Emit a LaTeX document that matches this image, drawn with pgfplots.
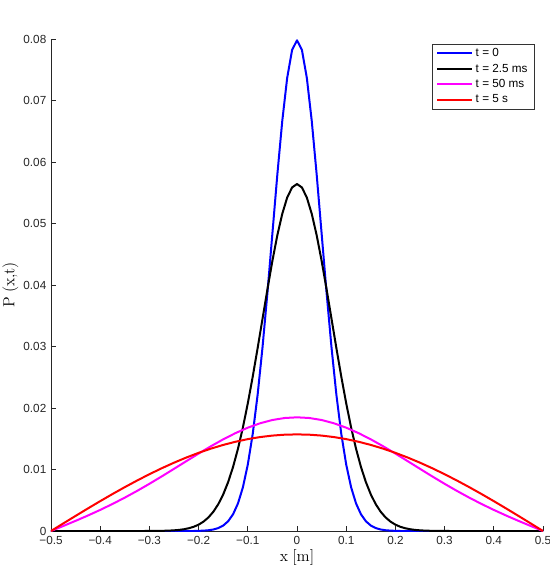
\documentclass[border=0pt]{standalone}
\usepackage{pgfplots}
\pgfplotsset{compat=1.18}
\usepackage[no-math]{fontspec}
\setmainfont{Liberation Sans}
\begin{document}
\begin{tikzpicture}
\begin{axis}[
  name=ax,
  scale only axis,
  width=369pt, height=369pt,
  xmin=-0.5, xmax=0.5, ymin=0, ymax=0.08,
  axis lines*=left,
  tick align=inside,
  major tick length=3.5pt,
  axis line style={line width=0.6pt, black!85},
  every tick/.style={black!85, line width=0.6pt},
  xtick={-0.5,-0.4,-0.3,-0.2,-0.1,0,0.1,0.2,0.3,0.4,0.5},
  xticklabels={−0.5,−0.4,−0.3,−0.2,−0.1,0,0.1,0.2,0.3,0.4,0.5},
  ytick={0,0.01,0.02,0.03,0.04,0.05,0.06,0.07,0.08},
  yticklabels={0,0.01,0.02,0.03,0.04,0.05,0.06,0.07,0.08},
  scaled y ticks=false,
  tick label style={font=\fontsize{8.8}{10}\selectfont, black!85},
  xticklabel style={yshift=-0.5pt},
  xlabel={$\mathrm{x\ [m]}$},
  ylabel={$\mathrm{P\ (x{,}t)}$},
  label style={font=\fontsize{11.5}{13}\selectfont},
  xlabel style={yshift=3pt},
  ylabel style={yshift=-3pt},
  legend cell align=left,
  legend style={at={(0.983,0.99)}, anchor=north east, draw=black!80, line width=0.6pt,
    font=\fontsize{8.8}{10}\selectfont, inner xsep=3pt, inner ysep=1pt, row sep=0pt},
  legend image code/.code={\draw[#1] (0pt,0pt) -- (26pt,0pt);},
  every axis plot/.append style={line width=1.5pt, line join=round},
]
\addplot[color={rgb,1:red,0;green,0;blue,1}] coordinates {
(-0.5,0) (-0.21,0) (-0.20,0.0000268) (-0.19,0.0000584) (-0.18,0.000122) (-0.17,0.000246)
(-0.16,0.000477) (-0.15,0.000886) (-0.14,0.001583) (-0.13,0.002717) (-0.12,0.004479)
(-0.11,0.007095) (-0.10,0.01080) (-0.09,0.01579) (-0.08,0.02218) (-0.07,0.02995)
(-0.06,0.03884) (-0.05,0.04840) (-0.04,0.05794) (-0.03,0.06665) (-0.02,0.07366)
(-0.01,0.07821) (0,0.07979) (0.01,0.07821) (0.02,0.07366) (0.03,0.06665) (0.04,0.05794)
(0.05,0.04840) (0.06,0.03884) (0.07,0.02995) (0.08,0.02218) (0.09,0.01579) (0.10,0.01080)
(0.11,0.007095) (0.12,0.004479) (0.13,0.002717) (0.14,0.001583) (0.15,0.000886)
(0.16,0.000477) (0.17,0.000246) (0.18,0.000122) (0.19,0.0000584) (0.20,0.0000268)
(0.21,0) (0.5,0)
};
\addlegendentry{t = 0}
\addplot[color=black] coordinates {
(-0.5,0) (-0.31,0) (-0.30,0.0000070) (-0.28,0.0000222) (-0.27,0.0000385) (-0.26,0.0000654)
(-0.25,0.000109) (-0.24,0.000178) (-0.23,0.000284) (-0.22,0.000446) (-0.21,0.000686)
(-0.20,0.001033) (-0.19,0.001526) (-0.18,0.002210) (-0.17,0.003136) (-0.16,0.004362)
(-0.15,0.005947) (-0.14,0.007947) (-0.13,0.01041) (-0.12,0.01337) (-0.11,0.01682)
(-0.10,0.02076) (-0.09,0.02510) (-0.08,0.02975) (-0.07,0.03456) (-0.06,0.03936)
(-0.05,0.04394) (-0.04,0.04808) (-0.03,0.05156) (-0.02,0.05421) (-0.01,0.05586)
(0,0.05642) (0.01,0.05586) (0.02,0.05421) (0.03,0.05156) (0.04,0.04808) (0.05,0.04394)
(0.06,0.03936) (0.07,0.03456) (0.08,0.02975) (0.09,0.02510) (0.10,0.02076) (0.11,0.01682)
(0.12,0.01337) (0.13,0.01041) (0.14,0.007947) (0.15,0.005947) (0.16,0.004362)
(0.17,0.003136) (0.18,0.002210) (0.19,0.001526) (0.20,0.001033) (0.21,0.000686)
(0.22,0.000446) (0.23,0.000284) (0.24,0.000178) (0.25,0.000109) (0.26,0.0000654)
(0.27,0.0000385) (0.28,0.0000222) (0.30,0.0000070) (0.31,0) (0.5,0)
};
\addlegendentry{t = 2.5 ms}
\addplot[color={rgb,1:red,1;green,0;blue,1}] coordinates {
(-0.5,0) (-0.475,0.000817) (-0.45,0.001651) (-0.425,0.002516) (-0.4,0.003428)
(-0.375,0.004396) (-0.35,0.005426) (-0.325,0.006520) (-0.3,0.007671) (-0.275,0.008872)
(-0.25,0.010107) (-0.225,0.011354) (-0.2,0.012589) (-0.175,0.013782) (-0.15,0.014903)
(-0.125,0.015918) (-0.1,0.016799) (-0.075,0.017517) (-0.05,0.018048) (-0.025,0.018374)
(0,0.018484) (0.025,0.018374) (0.05,0.018048) (0.075,0.017517) (0.1,0.016799)
(0.125,0.015918) (0.15,0.014903) (0.175,0.013782) (0.2,0.012589) (0.225,0.011354)
(0.25,0.010107) (0.275,0.008872) (0.3,0.007671) (0.325,0.006520) (0.35,0.005426)
(0.375,0.004396) (0.4,0.003428) (0.425,0.002516) (0.45,0.001651) (0.475,0.000817) (0.5,0)
};
\addlegendentry{t = 50 ms}
\addplot[color={rgb,1:red,1;green,0;blue,0}] coordinates {
(-0.5,0) (-0.475,0.001232) (-0.45,0.002457) (-0.425,0.003667) (-0.4,0.004854)
(-0.375,0.006011) (-0.35,0.007131) (-0.325,0.008207) (-0.3,0.009233) (-0.275,0.010202)
(-0.25,0.011107) (-0.225,0.011944) (-0.2,0.012708) (-0.175,0.013393) (-0.15,0.013996)
(-0.125,0.014512) (-0.1,0.014939) (-0.075,0.015274) (-0.05,0.015515) (-0.025,0.015660)
(0,0.015708) (0.025,0.015660) (0.05,0.015515) (0.075,0.015274) (0.1,0.014939)
(0.125,0.014512) (0.15,0.013996) (0.175,0.013393) (0.2,0.012708) (0.225,0.011944)
(0.25,0.011107) (0.275,0.010202) (0.3,0.009233) (0.325,0.008207) (0.35,0.007131)
(0.375,0.006011) (0.4,0.004854) (0.425,0.003667) (0.45,0.002457) (0.475,0.001232) (0.5,0)
};
\addlegendentry{t = 5 s}
\end{axis}
\pgfresetboundingbox
\useasboundingbox ([shift={(-38.25pt,-30.75pt)}]ax.south west) rectangle ([shift={(4.5pt,29.25pt)}]ax.north east);
\end{tikzpicture}
\end{document}
